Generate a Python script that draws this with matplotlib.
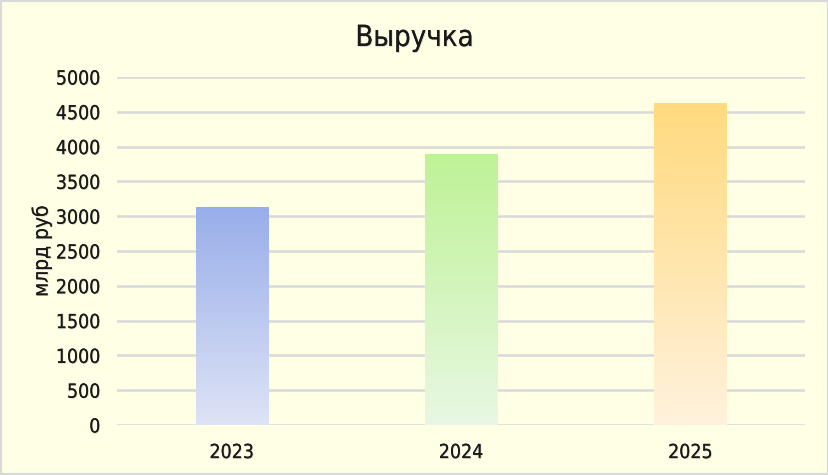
import matplotlib.pyplot as plt
import matplotlib.patheffects as pe
import numpy as np
from matplotlib.colors import LinearSegmentedColormap

years = ['2023', '2024', '2025']
revenue = [3130, 3900, 4630]
top_colors = ['#98AEEA', '#BEF296', '#FFDA7E']
bottom_colors = ['#DEE3F6', '#E8F8E3', '#FFF2DD']

bg = '#FFFFE6'
plt.rcParams['font.family'] = ['DejaVu Sans']
plt.rcParams['font.stretch'] = 'condensed'

fig = plt.figure(figsize=(8.29, 4.75), dpi=100, facecolor=bg)
ax = fig.add_axes([117 / 829, 1 - 425 / 475, 688 / 829, 348 / 475])
ax.set_facecolor(bg)

shadow = [pe.withSimplePatchShadow(offset=(0.6, -0.6), shadow_rgbFace='#b0b0a0', alpha=0.5), pe.Normal()]

x = np.arange(len(years))
bars = ax.bar(x, revenue, width=0.315, color='none', edgecolor='none', zorder=3)
grad = np.linspace(1, 0, 256).reshape(-1, 1)
for b, c1, c0 in zip(bars, top_colors, bottom_colors):
    cmap = LinearSegmentedColormap.from_list('g', [c0, c1])
    x0, y0 = b.get_x(), b.get_y()
    im = ax.imshow(grad, cmap=cmap, aspect='auto', zorder=3,
                   extent=[x0, x0 + b.get_width(), y0, y0 + b.get_height()], vmin=0, vmax=1)
    im.set_clip_path(b)

ax.set_xlim(-0.5, 2.5)
ax.set_ylim(0, 5000)
ax.set_yticks(range(0, 5001, 500))
ax.set_xticks(x)
ax.set_xticklabels(years)
ax.grid(axis='y', color='#D9D9D9', linewidth=1.8, zorder=0)
ax.set_axisbelow(True)
for s in ax.spines.values():
    s.set_visible(False)
ax.tick_params(length=0, labelsize=14, colors='#1a1a1a')
ax.tick_params(axis='y', pad=12)
ax.tick_params(axis='x', pad=13)
for lbl in ax.get_xticklabels() + ax.get_yticklabels():
    lbl.set_path_effects(shadow)

ax.set_ylabel('млрд руб', fontsize=15, color='#1a1a1a', labelpad=3, path_effects=shadow)
fig.text(0.5, 1 - 38 / 475, 'Выручка', ha='center', va='center', fontsize=21,
         color='#1a1a1a', path_effects=shadow)

fig.patches.append(plt.Rectangle((0, 0), 1, 1, transform=fig.transFigure,
                                 fill=False, edgecolor='#D9D9D9', linewidth=3))

fig.savefig('out.png', dpi=100, facecolor=bg)
